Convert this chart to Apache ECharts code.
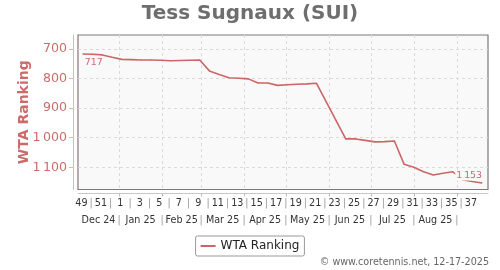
<!DOCTYPE html>
<html>
<head>
<meta charset="utf-8">
<script src="https://cdn.jsdelivr.net/npm/echarts@6/dist/echarts.min.js"></script>
<style>html,body{margin:0;padding:0;background:#fff}#c{width:500px;height:270px}</style>
</head>
<body>
<div id="c"></div>
<script>
// ---- data ----
const titleText = 'Tess Sugnaux (SUI)';
const seriesName = 'WTA Ranking';
const creditText = '\u00A9 www.coretennis.net, 12-17-2025';
// ISO weeks (Dec 2024 .. Sep 2025)
const weeks = [49,50,51,52,1,2,3,4,5,6,7,8,9,10,11,12,13,14,15,16,17,18,19,20,21,22,23,24,25,26,27,28,29,30,31,32,33,34,35,36,37,38];
const ranking = [717,718,720,728,735,736,737,737,738,740,739,738,737,774,786,797,799,801,815,815,823,821,819,818,816,879,941,1004,1004,1009,1014,1013,1011,1090,1100,1115,1126,1120,1115,1142,1148,1153];
const monthNames = ['Dec 24','Jan 25','Feb 25','Mar 25','Apr 25','May 25','Jun 25','Jul 25','Aug 25'];
const monthStarts = ['2024-12-01','2025-01-01','2025-02-01','2025-03-01','2025-04-01','2025-05-01','2025-06-01','2025-07-01','2025-08-01','2025-09-01'];
const yTicks = [700,800,900,1000,1100];
const firstWeekThursday = '2024-12-05';

// ---- helpers ----
const base = Date.parse('2024-12-01');
const dayOf = s => (Date.parse(s) - base) / 864e5;
const thu0 = dayOf(firstWeekThursday);
const labelDay = i => thu0 + 7 * i;
const pointDay = i => thu0 + 1 + 7 * i;
const xMin = 1.5, xMax = 296.3;
const fmtNum = v => v >= 1000 ? Math.floor(v / 1000) + '\u2009' + String(v % 1000).padStart(3, '0') : String(v);

const monthDays = monthStarts.map(dayOf);
const boundaries = monthDays.filter(d => d > xMin && d < xMax);

const weekVals = [], weekTexts = [];
weeks.forEach((w, i) => {
  if (i === weeks.length - 1) return;
  weekVals.push(labelDay(i));
  weekTexts.push(w % 2 ? String(w) : '|');
});
const monthVals = [], monthTexts = [];
monthNames.forEach((m, i) => {
  const a = Math.max(monthDays[i], xMin), b = monthDays[i + 1];
  monthVals.push((a + b) / 2); monthTexts.push(m);
});
boundaries.forEach(d => { monthVals.push(d); monthTexts.push('|'); });
const lookup = (vals, texts, v) => {
  let k = 0, best = Infinity;
  vals.forEach((x, i) => { const d = Math.abs(x - v); if (d < best) { best = d; k = i; } });
  return texts[k];
};

const red = '#cc6666';
const labelRed = '#cd6a6a';
const font = 'DejaVu Sans';

const data = ranking.map((v, i) => {
  const item = { value: [pointDay(i), v] };
  if (i === 0) item.label = { show: true, position: 'bottom', align: 'left', distance: 4, offset: [1, 0] };
  if (i === ranking.length - 1) item.label = { show: true, position: 'top', align: 'right', distance: 2, offset: [1, 0] };
  return item;
});

const chart = echarts.init(document.getElementById('c'), null, { renderer: 'canvas' });
chart.setOption({
  animation: false,
  backgroundColor: '#ffffff',
  textStyle: { fontFamily: font },
  title: [
    { text: titleText, left: 'center', top: 4, padding: 0,
      textStyle: { fontFamily: font, fontSize: 20, fontWeight: 'bold', color: '#6e6e6e' } },
    { text: creditText, right: 11, top: 257, padding: 0,
      textStyle: { fontFamily: font, fontSize: 9.6, fontWeight: 'normal', color: '#666' } }
  ],
  legend: {
    data: [seriesName], left: 'center', top: 236, icon: 'rect', itemWidth: 15, itemHeight: 2,
    padding: [4, 5], borderColor: '#999', borderWidth: 1, borderRadius: 2,
    textStyle: { fontFamily: font, fontSize: 12, color: '#222' }
  },
  grid: { left: 78, right: 12, top: 35, bottom: 80.5, show: true, backgroundColor: '#f9f9f9',
    borderColor: '#7a7a7a', borderWidth: 1.2, containLabel: false },
  xAxis: [
    { type: 'value', gridIndex: 0, position: 'bottom', min: xMin, max: xMax, offset: 4,
      axisLine: { show: true, lineStyle: { color: '#c8c8c8', width: 1 } },
      axisTick: { show: true, length: 3, customValues: boundaries, lineStyle: { color: '#bbbbbb' } },
      axisLabel: { customValues: weekVals, margin: 5, fontSize: 9.6, hideOverlap: false,
        formatter: v => lookup(weekVals, weekTexts, v),
        color: (v) => lookup(weekVals, weekTexts, v) === '|' ? '#999' : '#333' },
      splitLine: { show: true, lineStyle: { type: [3, 3], color: '#dadada', width: 1 } } },
    { type: 'value', gridIndex: 0, position: 'bottom', min: xMin, max: xMax, offset: 4,
      axisLine: { show: false }, axisTick: { show: false }, splitLine: { show: false },
      axisLabel: { customValues: monthVals, margin: 22, fontSize: 9.6, hideOverlap: false,
        formatter: v => lookup(monthVals, monthTexts, v),
        color: (v) => lookup(monthVals, monthTexts, v) === '|' ? '#999' : '#333' } }
  ],
  yAxis: {
    type: 'value', inverse: true, min: 652.7, max: 1175, offset: 5, position: 'left',
    name: seriesName, nameLocation: 'middle', nameGap: 42, nameMoveOverlap: false,
    nameTextStyle: { fontFamily: font, fontSize: 14, fontWeight: 'bold', color: labelRed },
    axisLine: { show: true, lineStyle: { color: '#e2b4b4', width: 1 } },
    axisTick: { show: true, length: 4, customValues: yTicks, lineStyle: { color: '#e2b4b4' } },
    axisLabel: { customValues: yTicks, margin: 6, fontSize: 12.6, color: labelRed, formatter: v => fmtNum(v) },
    splitLine: { show: true, lineStyle: { type: [3, 3], color: '#dadada', width: 1 } }
  },
  series: [{
    name: seriesName, type: 'line', xAxisIndex: 0, data: data,
    symbol: 'circle', symbolSize: 1, showSymbol: true,
    itemStyle: { color: red }, lineStyle: { color: red, width: 1.6 },
    label: { show: false, fontFamily: font, fontSize: 9.4, color: labelRed,
      backgroundColor: '#f9f9f9', padding: [0, 1],
      formatter: p => fmtNum(p.value[1]) }
  }]
});
</script>
</body>
</html>
